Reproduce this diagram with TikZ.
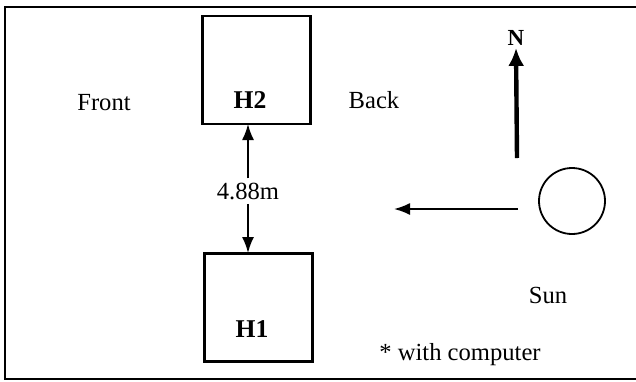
\documentclass[tikz,border=0pt]{standalone}
\usepackage{fontspec}
\setmainfont{Liberation Serif}
\usetikzlibrary{arrows.meta}
\begin{document}
\begin{tikzpicture}[x=0.5pt,y=-0.5pt,
  house/.style={draw,line width=1.1pt,minimum width=54pt,minimum height=54pt,inner sep=0pt},
  lbl/.style={font=\fontsize{12.3}{14}\selectfont,inner sep=1pt},
  blbl/.style={font=\fontsize{12.8}{15}\selectfont\bfseries,inner sep=1pt},
  arr/.style={line width=0.9pt,-{Latex[length=8pt,width=6pt]}}]
\useasboundingbox (0,0) rectangle (636,381);
\draw[line width=1.1pt] (640,7) -- (5,7) -- (5,379) -- (640,379);
\node[house] (h2) at (256.5,70) {};
\node[house] (h1) at (258.5,307.5) {};
\node[blbl] (h2t) at (250,100) {H2};
\node[blbl] (h1t) at (252,329) {H1};
\node[lbl] (front) at (104,103) {Front};
\node[lbl] (back) at (374,100) {Back};
\node[lbl,fill=white,inner sep=2pt] (dist) at (248,191) {4.88m};
\draw[arr] (dist.north -| 248,0) -- (248,124);
\draw[arr] (dist.south -| 248,0) -- (248,253);
\node[blbl,font=\fontsize{11.5}{13}\selectfont\bfseries] (n) at (516,38) {N};
\coordinate (ntail) at (517,158);
\draw[line width=2.2pt,-{Latex[length=9pt,width=8pt]}] (ntail) -- (n.south);
\node[draw,circle,line width=0.9pt,minimum size=33pt,inner sep=0pt] (sun) at (572,201) {};
\coordinate (rayend) at (394,209);
\draw[arr] (518,209) -- (rayend);
\node[lbl] (suntext) at (548,295) {Sun};
\node[lbl] (note) at (460,355) {* with computer};
\end{tikzpicture}
\end{document}
